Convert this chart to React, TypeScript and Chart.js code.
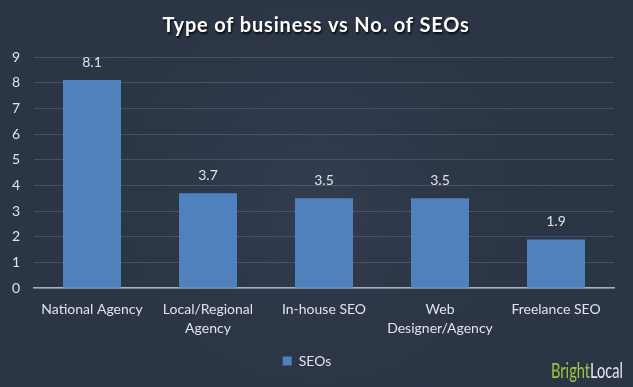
import React, { useEffect, useRef } from "react";
import { Chart, registerables } from "chart.js";

Chart.register(...registerables);

const categories: (string | string[])[] = [
  "National Agency",
  ["Local/Regional", "Agency"],
  "In-house SEO",
  ["Web", "Designer/Agency"],
  "Freelance SEO",
];
const seoValues = [8.1, 3.7, 3.5, 3.5, 1.9];
const seriesName = "SEOs";
const titleText = "Type of business vs No. of SEOs";
const yMin = 0;
const yMax = 9;
const yStep = 1;

const FONT = "Lato, 'Open Sans', sans-serif";
const BG = "#2c3546";
const BAR = "#4f81bd";
const TEXT = "#dfe3ea";

const decorPlugin = {
  id: "decor",
  beforeDraw(chart: any) {
    const { ctx, width, height } = chart;
    ctx.save();
    ctx.fillStyle = BG;
    ctx.fillRect(0, 0, width, height);
    const g = ctx.createRadialGradient(width / 2, height / 2, 20, width / 2, height / 2, 260);
    g.addColorStop(0, "rgba(60,72,92,0.35)");
    g.addColorStop(1, "rgba(44,53,70,0)");
    ctx.fillStyle = g;
    ctx.fillRect(0, 0, width, height);
    ctx.restore();
  },
  afterDraw(chart: any) {
    const { ctx } = chart;
    ctx.save();
    ctx.font = `bold 20px ${FONT}`;
    (ctx as any).letterSpacing = "0.8px";
    ctx.textAlign = "center";
    ctx.textBaseline = "alphabetic";
    ctx.shadowColor = "rgba(0,0,0,0.8)";
    ctx.shadowOffsetX = 1;
    ctx.shadowOffsetY = 2;
    ctx.shadowBlur = 2;
    ctx.fillStyle = "#ffffff";
    ctx.fillText(titleText, 316, 32);
    ctx.restore();

    // data labels
    ctx.save();
    ctx.font = `14px ${FONT}`;
    ctx.fillStyle = TEXT;
    ctx.textAlign = "center";
    ctx.textBaseline = "alphabetic";
    const meta = chart.getDatasetMeta(0);
    meta.data.forEach((bar: any, i: number) => {
      ctx.fillText(seoValues[i].toFixed(1), bar.x, bar.y - 13);
    });
    ctx.restore();

    // logo
    ctx.save();
    ctx.font = `22px ${FONT}`;
    ctx.textBaseline = "alphabetic";
    ctx.textAlign = "left";
    const w1 = ctx.measureText("Bright").width;
    const w2 = ctx.measureText("Local").width;
    const sx = 72 / (w1 + w2);
    ctx.translate(551, 378);
    ctx.scale(sx, 1);
    ctx.fillStyle = "#a2c43c";
    ctx.fillText("Bright", 0, 0);
    ctx.fillStyle = "#e4e8ec";
    ctx.fillText("Local", w1, 0);
    ctx.restore();
  },
};

export default function App() {
  const ref = useRef<HTMLCanvasElement | null>(null);
  useEffect(() => {
    document.body.style.margin = "0";
    document.body.style.background = BG;
    const chart = new Chart(ref.current!, {
      type: "bar",
      data: {
        labels: categories,
        datasets: [
          {
            label: seriesName,
            data: seoValues,
            backgroundColor: BAR,
            borderWidth: 0,
            categoryPercentage: 1,
            barPercentage: 0.5,
          },
        ],
      },
      options: {
        animation: false,
        responsive: false,
        maintainAspectRatio: false,
        layout: { padding: { top: 57, right: 19, bottom: 9, left: 0 } },
        plugins: {
          title: { display: false },
          tooltip: { enabled: false },
          legend: {
            display: true,
            position: "bottom",
            labels: {
              color: TEXT,
              font: { family: FONT, size: 14 },
              boxWidth: 9,
              boxHeight: 9,
              padding: 4,
            },
          },
        },
        scales: {
          x: {
            grid: { display: false, drawTicks: false },
            border: { display: true, color: "#a9b0bb", width: 1.5 },
            ticks: {
              color: TEXT,
              font: { family: FONT, size: 14, lineHeight: 1.35 },
              padding: 12,
              maxRotation: 0,
              autoSkip: false,
            },
            afterFit: (scale: any) => {
              scale.paddingLeft = 0;
              scale.paddingRight = 0;
            },
          },
          y: {
            min: yMin,
            max: yMax,
            ticks: {
              stepSize: yStep,
              color: TEXT,
              font: { family: FONT, size: 14 },
              padding: 14,
            },
            grid: { color: "rgba(200,210,225,0.18)", drawTicks: false },
            border: { display: false },
            afterFit: (scale: any) => {
              scale.width = 34;
            },
          },
        },
      },
      plugins: [decorPlugin],
    });
    return () => chart.destroy();
  }, []);
  return (
    <div style={{ width: 633, height: 387 }}>
      <canvas ref={ref} width={633} height={387} style={{ display: "block" }} />
    </div>
  );
}
